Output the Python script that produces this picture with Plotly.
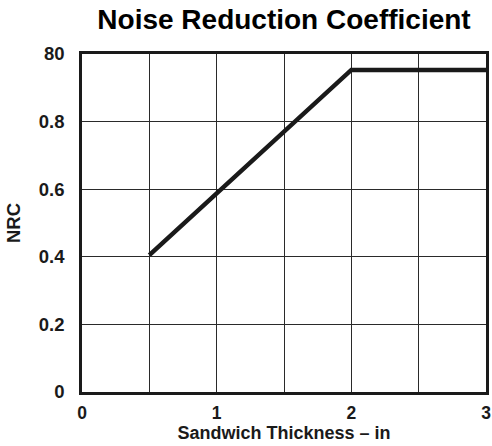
import plotly.graph_objects as go

# NRC vs sandwich thickness
thickness_in = [0.5, 2.0, 3.0]
nrc = [0.405, 0.953, 0.953]

x_tick_vals = [0, 1, 2, 3]
x_tick_text = ["0", "1", "2", "3"]
y_tick_vals = [0, 0.2, 0.4, 0.6, 0.8, 1.0]
y_tick_text = ["0", "0.2", "0.4", "0.6", "0.8", "80"]

FONT = "Liberation Sans, Arial, Helvetica, sans-serif"
INK = "#1a1a1a"

fig = go.Figure()
fig.add_trace(go.Scatter(
    x=thickness_in, y=nrc, mode="lines",
    line=dict(color=INK, width=4.5),
    showlegend=False, hoverinfo="skip",
))

fig.update_layout(
    width=492, height=446,
    margin=dict(l=82, r=6, t=54, b=54),
    paper_bgcolor="white", plot_bgcolor="white",
    font=dict(family=FONT, color=INK),
    title=dict(
        text="<b>Noise Reduction Coefficient</b>",
        font=dict(size=28, family=FONT, color="black"),
        x=(82 + 486) / 2 / 492, xanchor="center",
        y=1 - 19 / 446, yanchor="middle",
    ),
)

fig.update_xaxes(
    range=[0, 3], automargin=False,
    tickvals=x_tick_vals, ticktext=[f"<b>{t}</b>" for t in x_tick_text],
    tickfont=dict(size=17.5, family=FONT, color=INK),
    ticks="outside", ticklen=3, tickcolor="rgba(0,0,0,0)",
    showgrid=True, gridcolor="#2a2a2a", gridwidth=1,
    minor=dict(dtick=0.5, showgrid=True, gridcolor="#2a2a2a", gridwidth=1),
    showline=True, linecolor=INK, linewidth=2.5, mirror=True,
    zeroline=False,
    title=dict(text="<b>Sandwich Thickness – in</b>",
               font=dict(size=18, family=FONT, color=INK), standoff=3),
)

fig.update_yaxes(
    range=[0, 1.0], automargin=False,
    tickvals=y_tick_vals, ticktext=[f"<b>{t}</b>" for t in y_tick_text],
    tickfont=dict(size=18.5, family=FONT, color=INK),
    ticks="outside", ticklen=11, tickcolor="rgba(0,0,0,0)",
    showgrid=True, gridcolor="#2a2a2a", gridwidth=1,
    showline=True, linecolor=INK, linewidth=2.5, mirror=True,
    zeroline=False,
    title=dict(text="<b>NRC</b>",
               font=dict(size=18.5, family=FONT, color=INK), standoff=14),
)

fig.write_html("out.html")
